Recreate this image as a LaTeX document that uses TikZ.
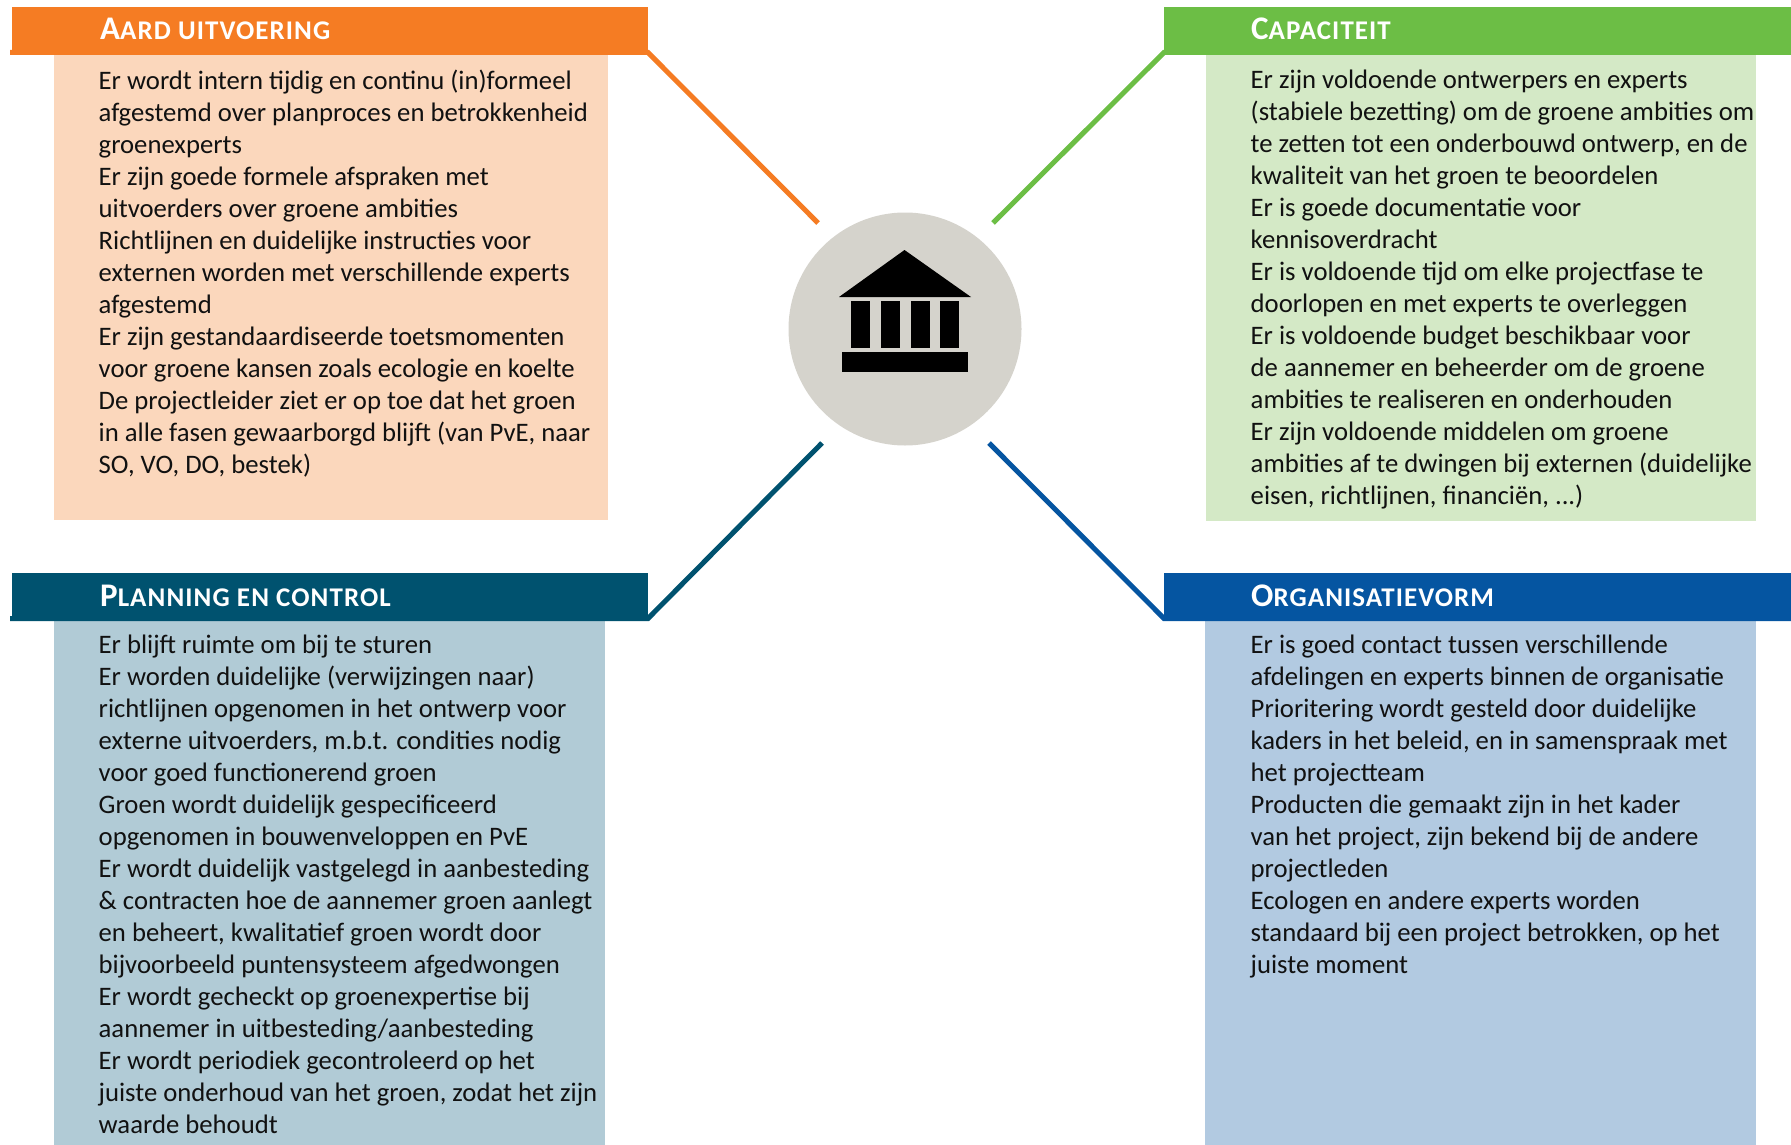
\documentclass[tikz,border=0pt]{standalone}
\usepackage{fontspec}
\setmainfont{Carlito}
\definecolor{aardcol}{HTML}{F57C23}
\definecolor{aardfill}{HTML}{FBD7BC}
\definecolor{capcol}{HTML}{6CBE45}
\definecolor{capfill}{HTML}{D4E9C6}
\definecolor{plancol}{HTML}{00526F}
\definecolor{planfill}{HTML}{B1CBD6}
\definecolor{orgcol}{HTML}{0555A1}
\definecolor{orgfill}{HTML}{B2CAE1}
\definecolor{hubcol}{HTML}{D5D3CC}
\definecolor{inkcol}{HTML}{111111}
\newcommand{\headcaps}[2]{\addfontfeatures{LetterSpace=4}#1{\fontsize{27}{32}\selectfont\MakeUppercase{#2}}}
\tikzset{
    headbox/.style={anchor=north west, minimum height=48pt, inner sep=0pt, outer sep=0pt},
    headtext/.style={anchor=base west, inner sep=0pt, text=white, font=\fontsize{33}{32}\selectfont\bfseries},
    bodybox/.style={anchor=north west, inner sep=0pt, outer sep=0pt},
    bodytext/.style={anchor=north west, inner sep=0pt, align=left, text=inkcol, font=\fontsize{26.7}{32}\selectfont},
    spoke/.style={line width=5pt, line join=miter},
}
\begin{document}
\begin{tikzpicture}[x=1pt, y=-1pt]
    \useasboundingbox (0, 0) rectangle (1791, 1145);

    \node[bodybox, fill=aardfill, minimum width=554pt, minimum height=465pt] (aard_body) at (54, 55) {};
    \node[bodybox, fill=capfill, minimum width=550pt, minimum height=466pt] (cap_body) at (1206, 55) {};
    \node[bodybox, fill=planfill, minimum width=551pt, minimum height=524pt] (plan_body) at (54, 621) {};
    \node[bodybox, fill=orgfill, minimum width=551pt, minimum height=524pt] (org_body) at (1205, 621) {};

    \node[headbox, fill=aardcol, minimum width=636pt] (aard_head) at (12, 7) {};
    \node[headbox, fill=capcol, minimum width=627pt] (cap_head) at (1164, 7) {};
    \node[headbox, fill=plancol, minimum width=636pt] (plan_head) at (12, 573) {};
    \node[headbox, fill=orgcol, minimum width=627pt] (org_head) at (1164, 573) {};

    \node[headtext] (aard_title) at (100, 40) {\headcaps{A}{ard uitvoering}};
    \node[headtext] (cap_title) at (1251, 40) {\headcaps{C}{apaciteit}};
    \node[headtext] (plan_title) at (100, 606) {\headcaps{P}{lanning en control}};
    \node[headtext] (org_title) at (1251, 606) {\headcaps{O}{rganisatievorm}};

    \node[circle, fill=hubcol, minimum size=233pt, inner sep=0pt] (hub) at (905, 329) {};
    \fill[black] (904.5, 250) -- (971, 297) -- (839, 297) -- cycle;
    \foreach \colx in {851, 881, 911, 940}
        \fill[black] (\colx, 301) rectangle ++(19, 47);
    \fill[black] (842, 352) rectangle (968, 372);

    \coordinate (aard_tip) at (818, 223);
    \coordinate (cap_tip) at (993, 223);
    \coordinate (plan_tip) at (822, 443);
    \coordinate (org_tip) at (989, 443);

    \draw[spoke, draw=aardcol] ([xshift=-2pt, yshift=2.5pt]aard_head.south west) -- ([yshift=2.5pt]aard_head.south east) -- (aard_tip);
    \draw[spoke, draw=capcol] ([yshift=2.5pt]cap_head.south east) -- ([yshift=2.5pt]cap_head.south west) -- (cap_tip);
    \draw[spoke, draw=plancol] ([xshift=-2pt, yshift=2.5pt]plan_head.south west) -- ([yshift=2.5pt]plan_head.south east) -- (plan_tip);
    \draw[spoke, draw=orgcol] ([yshift=2.5pt]org_head.south east) -- ([yshift=2.5pt]org_head.south west) -- (org_tip);

    \node[bodytext] (aard_text) at (98.5, 69.5) {Er wordt intern tijdig en continu (in)formeel\\
        afgestemd over planproces en betrokkenheid\\
        groenexperts\\
        Er zijn goede formele afspraken met\\
        uitvoerders over groene ambities\\
        Richtlijnen en duidelijke instructies voor\\
        externen worden met verschillende experts\\
        afgestemd\\
        Er zijn gestandaardiseerde toetsmomenten\\
        voor groene kansen zoals ecologie en koelte\\
        De projectleider ziet er op toe dat het groen\\
        in alle fasen gewaarborgd blijft (van PvE, naar\\
        SO, VO, DO, bestek)};
    \node[bodytext] (cap_text) at (1250.5, 70) {Er zijn voldoende ontwerpers en experts\\
        (stabiele bezetting) om de groene ambities om\\
        te zetten tot een onderbouwd ontwerp, en de\\
        kwaliteit van het groen te beoordelen\\
        Er is goede documentatie voor\\
        kennisoverdracht\\
        Er is voldoende tijd om elke projectfase te\\
        doorlopen en met experts te overleggen\\
        Er is voldoende budget beschikbaar voor\\
        de aannemer en beheerder om de groene\\
        ambities te realiseren en onderhouden\\
        Er zijn voldoende middelen om groene\\
        ambities af te dwingen bij externen (duidelijke\\
        eisen, richtlijnen, financiën, ...)};
    \node[bodytext] (plan_text) at (98.5, 635) {Er blijft ruimte om bij te sturen\\
        Er worden duidelijke (verwijzingen naar)\\
        richtlijnen opgenomen in het ontwerp voor\\
        externe uitvoerders, m.b.t. condities nodig\\
        voor goed functionerend groen\\
        Groen wordt duidelijk gespecificeerd\\
        opgenomen in bouwenveloppen en PvE\\
        Er wordt duidelijk vastgelegd in aanbesteding\\
        \& contracten hoe de aannemer groen aanlegt\\
        en beheert, kwalitatief groen wordt door\\
        bijvoorbeeld puntensysteem afgedwongen\\
        Er wordt gecheckt op groenexpertise bij\\
        aannemer in uitbesteding/aanbesteding\\
        Er wordt periodiek gecontroleerd op het\\
        juiste onderhoud van het groen, zodat het zijn\\
        waarde behoudt};
    \node[bodytext] (org_text) at (1250.5, 635) {Er is goed contact tussen verschillende\\
        afdelingen en experts binnen de organisatie\\
        Prioritering wordt gesteld door duidelijke\\
        kaders in het beleid, en in samenspraak met\\
        het projectteam\\
        Producten die gemaakt zijn in het kader\\
        van het project, zijn bekend bij de andere\\
        projectleden\\
        Ecologen en andere experts worden\\
        standaard bij een project betrokken, op het\\
        juiste moment};
\end{tikzpicture}
\end{document}
